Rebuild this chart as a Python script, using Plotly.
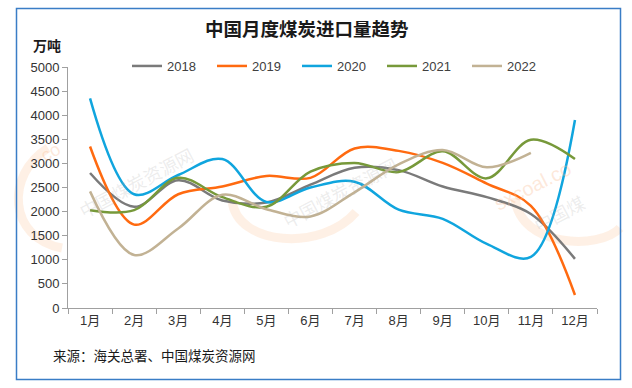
import plotly.graph_objects as go

months = ["1月", "2月", "3月", "4月", "5月", "6月", "7月", "8月", "9月", "10月", "11月", "12月"]
years = ["2018", "2019", "2020", "2021", "2022"]
v2018 = [2800, 2100, 2650, 2230, 2190, 2560, 2910, 2860, 2520, 2300, 1950, 1020]
v2019 = [3350, 1730, 2360, 2520, 2740, 2700, 3310, 3260, 3010, 2580, 2120, 270]
v2020 = [4350, 2360, 2760, 3090, 2200, 2500, 2620, 2040, 1850, 1330, 1060, 3900]
v2021 = [2030, 2030, 2700, 2300, 2100, 2830, 3010, 2820, 3250, 2690, 3490, 3090]
v2022 = [2420, 1100, 1650, 2350, 2050, 1900, 2400, 2980, 3280, 2920, 3220]
series = [v2018, v2019, v2020, v2021, v2022]
colors = ["#7A7A7A", "#FF6A10", "#10A5DE", "#77993A", "#C2B294"]

W, H = 632, 388
L, R, T, B = 68, 35, 67, 80
PW, PH = W - L - R, H - T - B


def px(x):
    return (x - L) / PW


def py(y):
    return (H - B - y) / PH


fig = go.Figure()
for name, vals, c in zip(years, series, colors):
    fig.add_trace(go.Scatter(
        x=months[:len(vals)], y=vals, name=name, mode="lines",
        line=dict(color=c, width=2.5, shape="spline", smoothing=1.0),
    ))

font_num = "Liberation Sans, Noto Sans CJK SC, sans-serif"
font_cjk = "Noto Sans CJK SC, sans-serif"

shapes = []
# watermark arcs (faint)
arc_col = "rgba(252,200,160,0.28)"
for d in [
    [(48, 148), (5, 175), (8, 238), (62, 248)],
    [(232, 200), (236, 246), (322, 252), (356, 212)],
    [(515, 198), (520, 248), (600, 250), (620, 228)],
]:
    p = "M {} {} C {} {}, {} {}, {} {}".format(
        px(d[0][0]), py(d[0][1]), px(d[1][0]), py(d[1][1]),
        px(d[2][0]), py(d[2][1]), px(d[3][0]), py(d[3][1]))
    shapes.append(dict(type="path", xref="paper", yref="paper", path=p,
                       line=dict(color=arc_col, width=9), layer="below"))
# outer border
shapes.append(dict(type="rect", xref="paper", yref="paper",
                   x0=px(16.5), x1=px(620.5), y0=py(379.5), y1=py(8.5),
                   line=dict(color="#3A7DC6", width=1.5)))

annotations = [
    dict(text="<b>中国月度煤炭进口量趋势</b>", x=px(307), y=py(28), xref="paper", yref="paper",
         showarrow=False, font=dict(family=font_cjk, size=18.5, color="#1a1a1a"),
         xanchor="center", yanchor="middle"),
    dict(text="<b>万吨</b>", x=px(31), y=py(45), xref="paper", yref="paper",
         showarrow=False, font=dict(family=font_cjk, size=14, color="#1a1a1a"),
         xanchor="left", yanchor="middle"),
    dict(text="来源：海关总署、中国煤炭资源网", x=px(51), y=py(355), xref="paper", yref="paper",
         showarrow=False, font=dict(family=font_cjk, size=13.5, color="#1a1a1a"),
         xanchor="left", yanchor="middle"),
]
wm_gray = "rgba(170,170,170,0.22)"
for txt, cx, cy in [("中国煤炭资源网", 72, 182), ("中国煤炭资源网", 340, 192), ("中国煤", 592, 213)]:
    annotations.append(dict(text=txt, x=px(cx), y=py(cy), xref="paper", yref="paper",
                            showarrow=False, textangle=-28,
                            font=dict(family=font_cjk, size=18, color=wm_gray)))
annotations.append(dict(text="sxcoal.co", x=px(577), y=py(186), xref="paper", yref="paper",
                        showarrow=False, textangle=-27,
                        font=dict(family=font_num, size=20, color="rgba(250,190,150,0.35)")))
annotations.append(dict(text="co", x=px(35), y=py(152), xref="paper", yref="paper",
                        showarrow=False, textangle=-30,
                        font=dict(family=font_num, size=18, color="rgba(250,190,150,0.35)")))

fig.update_layout(
    width=W, height=H,
    margin=dict(l=L, r=R, t=T, b=B, autoexpand=False),
    paper_bgcolor="white", plot_bgcolor="white",
    shapes=shapes, annotations=annotations,
    showlegend=True,
    legend=dict(orientation="h", x=px(127), xanchor="left", y=py(66), yanchor="middle",
                font=dict(family=font_num, size=13, color="#404040"),
                entrywidth=40, entrywidthmode="pixels", itemwidth=30,
                bgcolor="rgba(0,0,0,0)", traceorder="normal", tracegroupgap=0),
    xaxis=dict(type="category", categoryorder="array", categoryarray=months,
               range=[-0.5, 11.5],
               showline=True, linecolor="#A0A0A0", linewidth=1,
               ticks="outside", tickson="boundaries", ticklen=5, tickcolor="#A0A0A0",
               showgrid=False, zeroline=False,
               tickfont=dict(family=font_num, size=13, color="#333333")),
    yaxis=dict(range=[0, 5000], tickvals=list(range(0, 5001, 500)),
               showline=True, linecolor="#A0A0A0", linewidth=1,
               ticks="outside", ticklen=5, tickcolor="#A0A0A0",
               showgrid=False, zeroline=False,
               tickfont=dict(family=font_num, size=13, color="#333333")),
)

fig.write_html("out.html", config={"displayModeBar": False},
               post_script="document.body.style.margin='0';document.body.style.overflow='hidden';")
